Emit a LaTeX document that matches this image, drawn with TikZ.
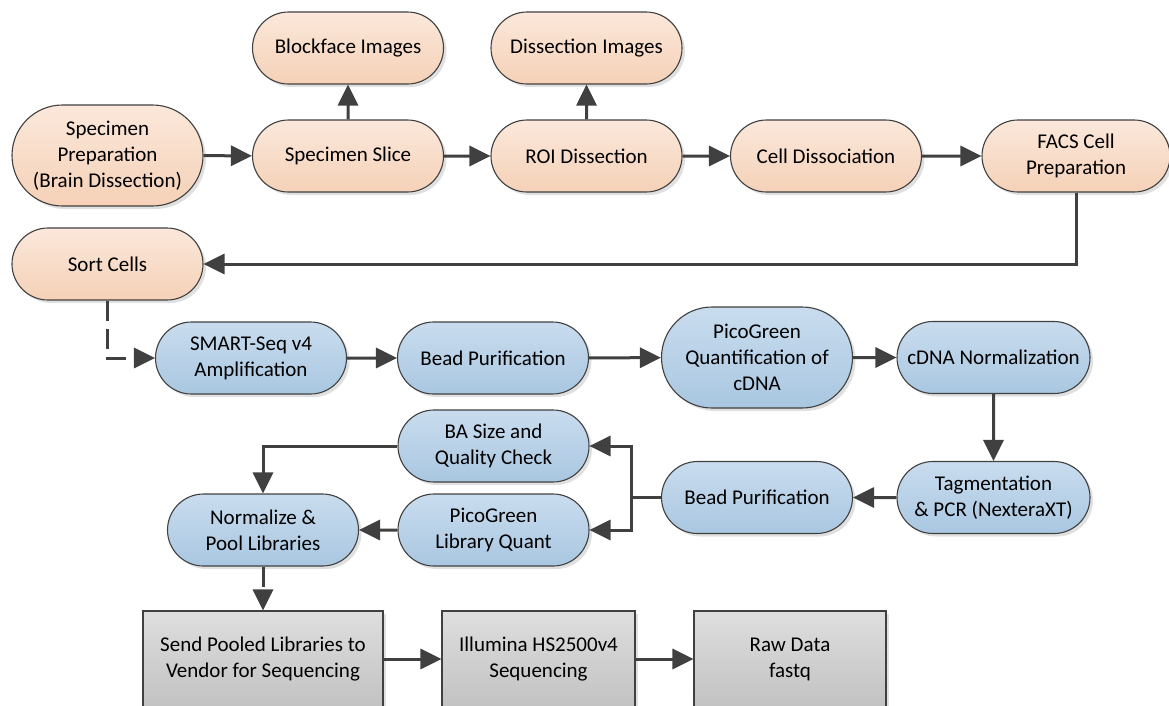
\documentclass[tikz,border=0pt]{standalone}
\usepackage{fontspec}
\setmainfont{Carlito}
\usetikzlibrary{arrows.meta,shapes.misc,shadows}

\definecolor{orangetop}{HTML}{FBE8DB}
\definecolor{orangebot}{HTML}{F5D1B7}
\definecolor{bluetop}{HTML}{C9DCEE}
\definecolor{bluebot}{HTML}{A9C7E1}
\definecolor{graytop}{HTML}{DEDEDE}
\definecolor{graybot}{HTML}{C2C2C2}
\definecolor{edgegray}{HTML}{404040}

\begin{document}
\begin{tikzpicture}[x=1pt, y=-1pt,
        font=\fontsize{21}{26}\selectfont,
        stepshape/.style={rounded rectangle, draw=edgegray, line width=1.1pt,
            minimum width=191pt, minimum height=72pt, inner sep=0pt, align=center,
            drop shadow={shadow xshift=3pt, shadow yshift=-3pt, fill=black, opacity=0.12}},
        prepstep/.style={stepshape, top color=orangetop, bottom color=orangebot},
        seqstep/.style={stepshape, top color=bluetop, bottom color=bluebot},
        vendorstep/.style={rectangle, draw=edgegray, line width=1.1pt, align=center,
            minimum height=96pt, inner sep=0pt, top color=graytop, bottom color=graybot,
            drop shadow={shadow xshift=3pt, shadow yshift=-3pt, fill=black, opacity=0.12}},
        arr/.style={draw=edgegray, line width=3pt, -{Triangle[length=21pt,width=20pt]}},
        dasharr/.style={arr, dash pattern=on 20pt off 8pt}]
    \useasboundingbox (0,0) rectangle (1169,705);

    % specimen handling
    \node[prepstep] (blockface) at (348, 48) {Blockface Images};
    \node[prepstep] (dissimg) at (586.5, 48) {Dissection Images};
    \node[prepstep, minimum height=101pt] (prep) at (107.5, 155.5) {Specimen\\Preparation\\(Brain Dissection)};
    \node[prepstep] (slice) at (348, 156) {Specimen Slice};
    \node[prepstep] (roi) at (586.5, 156) {ROI Dissection};
    \node[prepstep] (celldiss) at (826, 156) {Cell Dissociation};
    \node[prepstep, minimum width=188pt] (facs) at (1076, 156) {FACS Cell\\Preparation};
    \node[prepstep] (sort) at (107.5, 264) {Sort Cells};

    % library preparation
    \node[seqstep] (smart) at (251, 358) {SMART-Seq v4\\Amplification};
    \node[seqstep] (bead1) at (493, 358) {Bead Purification};
    \node[seqstep, minimum height=101pt] (picoq) at (757, 357.5) {PicoGreen\\Quantification of\\cDNA};
    \node[seqstep, minimum width=193pt] (cdna) at (993.5, 357.5) {cDNA Normalization};
    \node[seqstep, minimum width=193pt] (tag) at (993.5, 497.5) {Tagmentation\\\& PCR (NexteraXT)};
    \node[seqstep] (bead2) at (757, 497.5) {Bead Purification};
    \node[seqstep] (ba) at (493.5, 446) {BA Size and\\Quality Check};
    \node[seqstep] (picolib) at (493.5, 530) {PicoGreen\\Library Quant};
    \node[seqstep] (norm) at (263, 530) {Normalize \&\\Pool Libraries};
    \coordinate (split) at (631, 497.5);

    % sequencing
    \node[vendorstep, minimum width=240pt] (send) at (263, 659) {Send Pooled Libraries to\\Vendor for Sequencing};
    \node[vendorstep, minimum width=193pt] (illumina) at (538.5, 659) {Illumina HS2500v4\\Sequencing};
    \node[vendorstep, minimum width=192pt] (raw) at (790, 659) {Raw Data\\fastq};

    \draw[arr] (prep) -- (slice);
    \draw[arr] (slice) -- (blockface);
    \draw[arr] (slice) -- (roi);
    \draw[arr] (roi) -- (dissimg);
    \draw[arr] (roi) -- (celldiss);
    \draw[arr] (celldiss) -- (facs);
    \draw[arr] (facs.south) |- (sort.east);
    \draw[dasharr] (sort.south) |- (smart.west);
    \draw[arr] (smart) -- (bead1);
    \draw[arr] (bead1) -- (picoq);
    \draw[arr] (picoq) -- (cdna);
    \draw[arr] (cdna) -- (tag);
    \draw[arr] (tag) -- (bead2);
    \draw[draw=edgegray, line width=3pt] (bead2.west) -- (split);
    \draw[arr] (split) |- (ba.east);
    \draw[arr] (split) |- (picolib.east);
    \draw[arr] (ba.west) -| (norm.north);
    \draw[arr] (picolib) -- (norm);
    \draw[dasharr] (norm.south) -- (send.north);
    \draw[arr] (send) -- (illumina);
    \draw[arr] (illumina) -- (raw);
\end{tikzpicture}
\end{document}
